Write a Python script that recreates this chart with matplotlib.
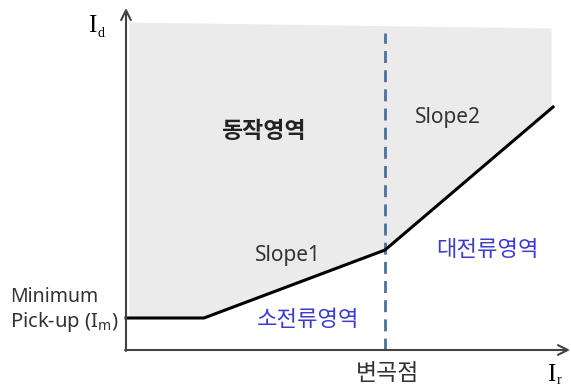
import matplotlib
matplotlib.use("Agg")
import matplotlib.pyplot as plt
import numpy as np

# characteristic curve (Ir, Id) in chart units
curve_ir = [0, 78, 259, 427]
curve_id = [32, 32, 100, 243]
# upper boundary of operating region
top_ir = [3, 425]
top_id = [328, 322]
knee_ir = 259
knee_top = 317

plt.rcParams['font.family'] = ['Noto Sans', 'Noto Sans CJK KR', 'DejaVu Sans']
plt.rcParams['mathtext.fontset'] = 'custom'
plt.rcParams['mathtext.rm'] = 'Noto Sans'

fig = plt.figure(figsize=(5.71, 3.89), dpi=100)
ax = fig.add_axes([0, 0, 1, 1])
ax.set_xlim(-126, 445)
ax.set_ylim(-39, 350)
ax.axis('off')

# shaded operating region
xs = np.linspace(top_ir[0], top_ir[1], 200)
low = np.interp(xs, curve_ir, curve_id)
high = np.interp(xs, top_ir, top_id)
ax.fill_between(xs, low, high, color='#ebebeb', lw=0, zorder=1)

# knee dashed line
ax.plot([knee_ir, knee_ir], [0, knee_top], color='#4f6f98', lw=2,
        dashes=(4.3, 2.6), zorder=2)

# characteristic line
ax.plot(curve_ir, curve_id, color='black', lw=2.2, zorder=3,
        solid_joinstyle='miter')

# axes arrows
axc = '#444444'
ax.annotate('', xy=(0, 342), xytext=(0, -1),
            arrowprops=dict(arrowstyle='->,head_length=0.7,head_width=0.35',
                            color=axc, lw=1.5, shrinkA=0, shrinkB=0), zorder=4)
ax.annotate('', xy=(444, 0), xytext=(-1, 0),
            arrowprops=dict(arrowstyle='->,head_length=0.7,head_width=0.35',
                            color=axc, lw=1.5, shrinkA=0, shrinkB=0), zorder=4)

txt = '#333333'
blue = '#3b3bd0'
serif = 'Liberation Serif'
kr = ['Noto Sans CJK KR']
# axis labels
ax.text(-38, 324, 'I', fontsize=18, family=serif, color='black', ha='left', va='center')
ax.text(-28, 317, 'd', fontsize=10, family=serif, color='black', ha='left', va='center')
ax.text(421, -25, 'I', fontsize=18, family=serif, color='black', ha='left', va='center')
ax.text(431, -31, 'r', fontsize=10, family=serif, color='black', ha='left', va='center')

ax.text(-116, 53, 'Minimum', fontsize=14, color=txt, ha='left', va='center')
ax.text(-116, 28, r'Pick-up (I$_\mathrm{m}$)', fontsize=14.5, color=txt, ha='left', va='center')

ax.text(137, 219, '동작영역', fontsize=16.5, fontweight='bold', color='#222222',
        family=kr, ha='center', va='center')
ax.text(322, 233, 'Slope2', fontsize=15, color=txt, ha='center', va='center')
ax.text(162, 94, 'Slope1', fontsize=15, color=txt, ha='center', va='center')
ax.text(361, 100, '대전류영역', fontsize=16, color=blue,
        family=kr, ha='center', va='center')
ax.text(182, 30, '소전류영역', fontsize=16, color=blue,
        family=kr, ha='center', va='center')
ax.text(262, -23, '변곡점', fontsize=16.5, color=txt,
        family=kr, ha='center', va='center')

fig.savefig('out.png', dpi=100)
